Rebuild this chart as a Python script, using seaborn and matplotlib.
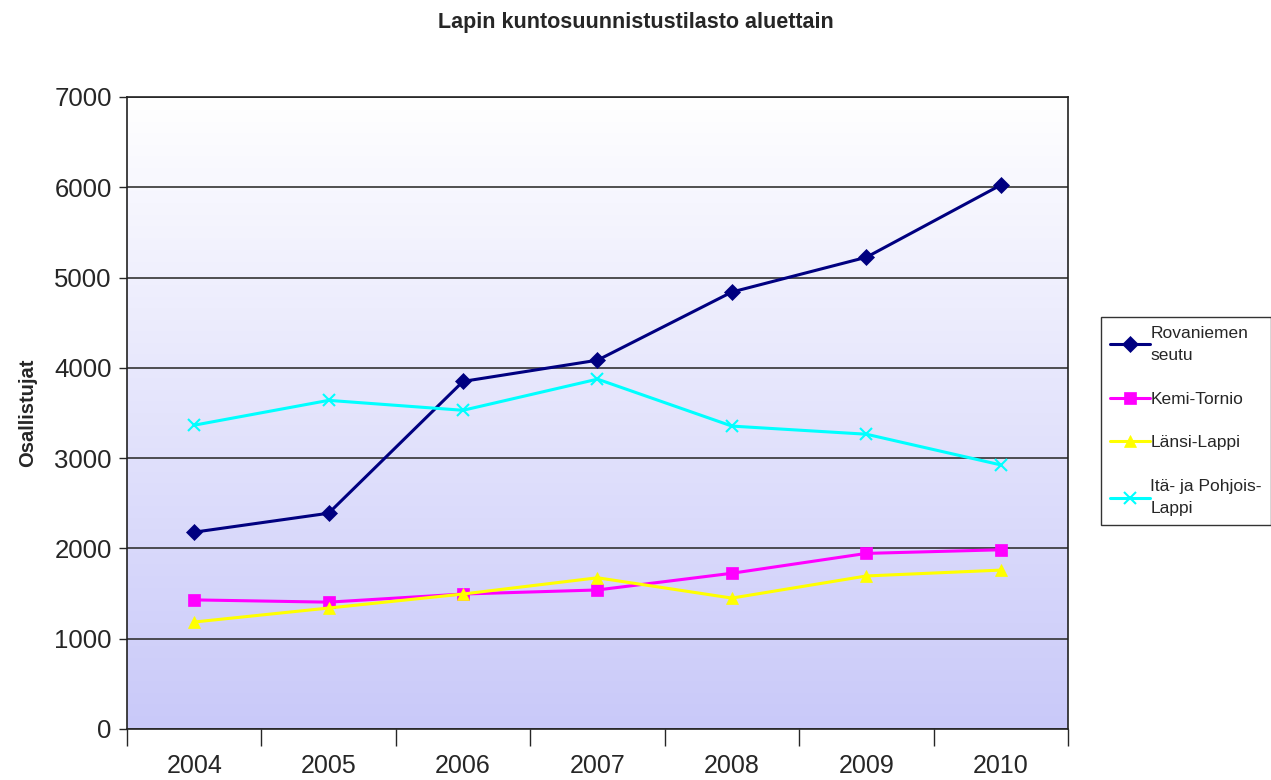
import matplotlib
matplotlib.use("Agg")
import matplotlib.pyplot as plt
from matplotlib.colors import LinearSegmentedColormap
import seaborn as sns
import numpy as np

years = ["2004", "2005", "2006", "2007", "2008", "2009", "2010"]
rovaniemi = [2180, 2390, 3850, 4085, 4840, 5225, 6025]
kemi_tornio = [1430, 1405, 1495, 1540, 1725, 1945, 1985]
lansi_lappi = [1185, 1340, 1495, 1675, 1450, 1695, 1760]
ita_pohjois = [3365, 3640, 3530, 3875, 3355, 3265, 2925]

series = [
    ("Rovaniemen\nseutu", rovaniemi, "#000080", "D", 8),
    ("Kemi-Tornio", kemi_tornio, "#ff00ff", "s", 8),
    ("Länsi-Lappi", lansi_lappi, "#ffff00", "^", 9),
    ("Itä- ja Pohjois-\nLappi", ita_pohjois, "#00ffff", "x", 9),
]

sns.set_style("white")
plt.rcParams["font.family"] = ["Liberation Sans", "DejaVu Sans"]

fig = plt.figure(figsize=(12.71, 7.80), dpi=100)
ax = fig.add_axes([127 / 1271, 1 - 729 / 780, (1068 - 127) / 1271, (729 - 97) / 780])

# gradient background
cmap = LinearSegmentedColormap.from_list("bg", ["#ffffff", "#c9c9f9"])
grad = np.linspace(0, 1, 256).reshape(-1, 1)
ax.imshow(grad, aspect="auto", cmap=cmap, extent=[0, 1, 0, 1],
          transform=ax.transAxes, zorder=0, origin="upper")

x = np.arange(len(years))
for label, vals, color, marker, ms in series:
    sns.lineplot(x=x, y=vals, ax=ax, color=color, marker=marker, markersize=ms,
                 markeredgecolor=color, markeredgewidth=1.5 if marker == "x" else 0.5,
                 linewidth=2.2, label=label, zorder=3)

ax.set_xlim(-0.5, len(years) - 0.5)
ax.set_ylim(0, 7000)
ax.set_yticks(range(0, 7001, 1000))
ax.tick_params(axis="y", labelsize=18.5, length=6, width=1, direction="out", left=True, pad=5)
ax.set_xticks(x)
ax.set_xticklabels(years)
ax.set_xticks(np.arange(-0.5, len(years), 1), minor=True)
ax.tick_params(axis="x", which="major", length=0, labelsize=18, pad=18)
ax.tick_params(axis="x", which="minor", length=12, width=1, direction="out", bottom=True)
ax.yaxis.grid(True, color="#333333", linewidth=1.2, zorder=1)
ax.set_axisbelow(True)
for s in ax.spines.values():
    s.set_color("#222222")
    s.set_linewidth(1.2)

ax.set_ylabel("Osallistujat", fontsize=14.5, fontweight="bold", labelpad=12)
ax.set_xlabel("")
fig.suptitle("Lapin kuntosuunnistustilasto aluettain", fontsize=15.5,
             fontweight="bold", y=0.985)

leg = ax.legend(loc="center left", bbox_to_anchor=(1101 / 1271, 1 - 421 / 780),
                bbox_transform=fig.transFigure, frameon=True, fancybox=False,
                fontsize=12.5, labelspacing=1.65, handlelength=2.3, borderpad=0.5,
                handletextpad=0.05, borderaxespad=0)
for t in leg.get_texts():
    t.set_linespacing(1.6)
leg.get_frame().set_edgecolor("#000000")
leg.get_frame().set_linewidth(1)

fig.savefig("out.png", dpi=100)
